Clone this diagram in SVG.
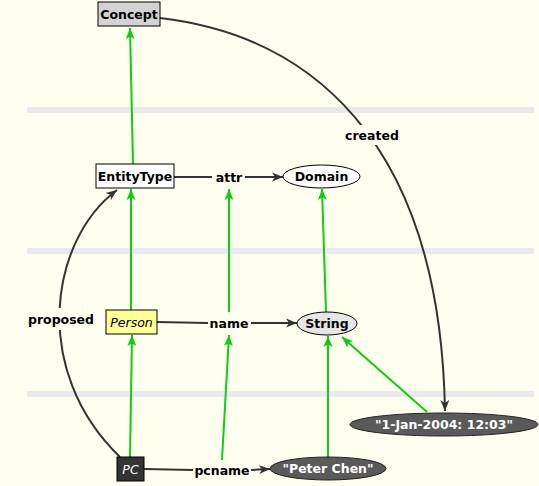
<svg xmlns="http://www.w3.org/2000/svg" width="539" height="486" viewBox="0 0 539 486">
<defs>
<style>
text{font-family:"DejaVu Sans","Liberation Sans",sans-serif;font-size:12.5px;text-anchor:middle;dominant-baseline:central}
.b{font-weight:bold;fill:#000}
.w{font-weight:bold;fill:#fff}
.it{font-style:italic}
.band{fill:#eaeaee}
.g{stroke:#11cc11;stroke-width:2;fill:none;marker-end:url(#ga)}
.d{stroke:#333;stroke-width:2;fill:none}
.da{marker-end:url(#da)}
.lbg{fill:#fffff0}
</style>
<marker id="ga" markerUnits="userSpaceOnUse" markerWidth="12" markerHeight="12" viewBox="0 0 12 12" refX="11" refY="6" orient="auto">
<path d="M0,1.5 L11,6 L0,10.5 L2.5,6 Z" fill="#11cc11"/>
</marker>
<marker id="da" markerUnits="userSpaceOnUse" markerWidth="12" markerHeight="12" viewBox="0 0 12 12" refX="11" refY="6" orient="auto">
<path d="M0,1.5 L11,6 L0,10.5 L3,6 Z" fill="#333"/>
</marker>
</defs>
<rect width="539" height="486" fill="#fffff0"/>
<g id="bands">
<rect class="band" x="27" y="107" width="507" height="6"/>
<rect class="band" x="27" y="248" width="507" height="6"/>
<rect class="band" x="27" y="391" width="507" height="6"/>
</g>
<g id="connectors">
<path class="g" d="M133,164 L130,28"/>
<path class="g" d="M131,310 L131,189"/>
<path class="g" d="M229,312 L229,189"/>
<path class="g" d="M326,312 L322,189"/>
<path class="g" d="M130,457 L132,335"/>
<path class="g" d="M222,460 L229,335"/>
<path class="g" d="M328,457 L328,336"/>
<path class="g" d="M427,412 L342,337"/>
<path class="d" d="M174,177 L212,177"/>
<path class="d da" d="M245,177 L283,177"/>
<path class="d" d="M157,322 L208,323"/>
<path class="d da" d="M251,323 L297,323"/>
<path class="d" d="M144,469 L193,470"/>
<path class="d da" d="M251,470 L270,469"/>
<path class="d da" d="M160,18 C305,35 440,135 445,411"/>
<path class="d da" d="M120,457 C30,370 50,240 117,190"/>
<rect class="lbg" x="341" y="125" width="62" height="20"/>
<rect class="lbg" x="24" y="308" width="76" height="22"/>
<text class="b" x="229" y="177">attr</text>
<text class="b" x="229" y="323">name</text>
<text class="b" x="222" y="470">pcname</text>
<text class="b" x="372" y="135">created</text>
<text class="b" x="61" y="319">proposed</text>
</g>
<g id="Concept">
<rect x="98" y="2" width="62" height="24" fill="#d3d3d3" stroke="#000" stroke-width="1"/>
<text class="b" x="129" y="14">Concept</text>
</g>
<g id="EntityType">
<rect x="96" y="164" width="78" height="24" fill="#fff" stroke="#000" stroke-width="1"/>
<text class="b" x="135" y="176">EntityType</text>
</g>
<g id="Domain">
<ellipse cx="321.5" cy="176.5" rx="38.5" ry="11.5" fill="#fff" stroke="#000" stroke-width="1"/>
<text class="b" x="321.5" y="176.5">Domain</text>
</g>
<g id="Person">
<rect x="106" y="310" width="51" height="24" fill="#ffff99" stroke="#000" stroke-width="1"/>
<text class="it" x="131.5" y="322">Person</text>
</g>
<g id="String">
<ellipse cx="327" cy="323.5" rx="30" ry="11.5" fill="#e6e6e6" stroke="#000" stroke-width="1"/>
<text class="b" x="327" y="323.5">String</text>
</g>
<g id="PC">
<rect x="117" y="457" width="27" height="24" fill="#333" stroke="#000" stroke-width="1"/>
<text class="it" x="130.5" y="469" fill="#fff">PC</text>
</g>
<g id="PeterChen">
<ellipse cx="328" cy="468.5" rx="58" ry="11.5" fill="#5a5a5a" stroke="#222" stroke-width="1"/>
<text class="w" x="328" y="468.5">"Peter Chen"</text>
</g>
<g id="Date">
<ellipse cx="444" cy="424.5" rx="94" ry="11.5" fill="#5a5a5a" stroke="#222" stroke-width="1"/>
<text class="w" x="444" y="424.5">"1-Jan-2004: 12:03"</text>
</g>
</svg>
